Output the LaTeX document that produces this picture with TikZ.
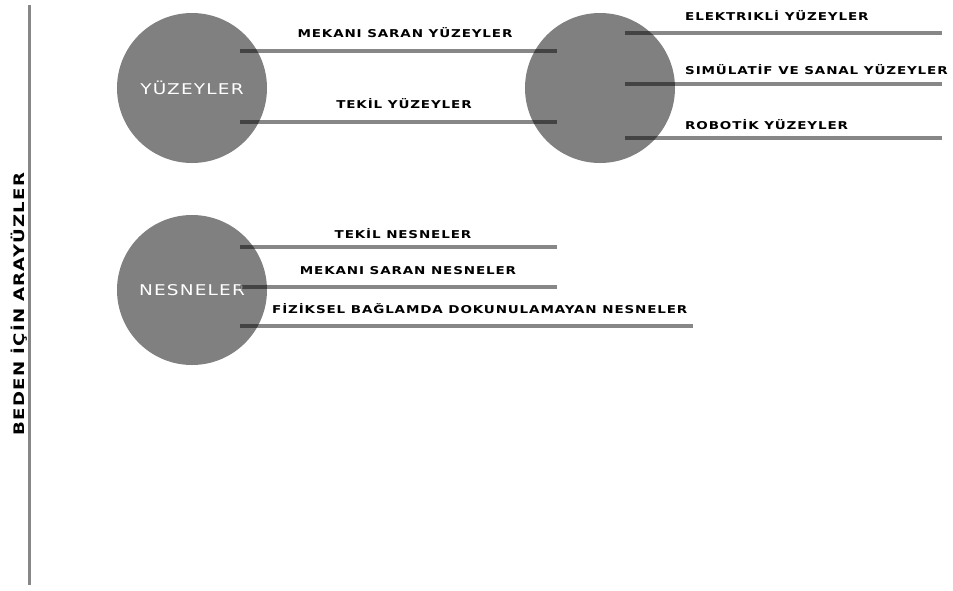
\documentclass[tikz,border=0pt]{standalone}
\usepackage{fontspec}
\setmainfont{DejaVu Sans}[FakeStretch=1.25, LetterSpace=8]
\begin{document}
\begin{tikzpicture}[x=1pt, y=-1pt,
    blob/.style={circle, fill=black!50, minimum size=150pt, inner sep=0pt,
      text=white, font=\fontsize{14.8}{15}\selectfont},
    bar/.style={draw=black, opacity=0.47, line width=4pt},
    lbl/.style={inner sep=0pt, font=\bfseries\fontsize{10.8}{11}\selectfont}]
  \useasboundingbox (0,0) rectangle (953,590);
  % main axis
  \coordinate (top) at (29,5);
  \coordinate (bot) at (29,585);
  \draw[bar, line width=3pt] (top) -- (bot);
  \node[lbl, rotate=90, font=\bfseries\fontsize{14.5}{15}\selectfont] (axis) at (19,304)
    {BEDEN İÇİN ARAYÜZLER};
  % circles
  \node[blob] (yuz) at (192,88) {YÜZEYLER};
  \node[blob] (ara) at (600,88) {};
  \node[blob] (nes) at (192,290) {NESNELER};
  % bars between the two upper circles
  \coordinate (m1) at (240,51);  \coordinate (m2) at (557,51);
  \coordinate (t1) at (240,122); \coordinate (t2) at (557,122);
  \draw[bar] (m1) -- (m2);
  \draw[bar] (t1) -- (t2);
  \node[lbl] (mekan) at (405,33) {MEKANI SARAN YÜZEYLER};
  \node[lbl] (tekil) at (404,104) {TEKİL YÜZEYLER};
  % bars leaving the right circle
  \coordinate (e1) at (625,33);  \coordinate (e2) at (942,33);
  \coordinate (s1) at (625,84);  \coordinate (s2) at (942,84);
  \coordinate (r1) at (625,138); \coordinate (r2) at (942,138);
  \draw[bar] (e1) -- (e2);
  \draw[bar] (s1) -- (s2);
  \draw[bar] (r1) -- (r2);
  \node[lbl, anchor=west] (elek) at (685,16) {ELEKTRIKLİ YÜZEYLER};
  \node[lbl, anchor=west] (simu) at (685,70) {SIMÜLATİF VE SANAL YÜZEYLER};
  \node[lbl, anchor=west] (robo) at (685,125) {ROBOTİK YÜZEYLER};
  % bars leaving the lower circle
  \coordinate (k1) at (240,247); \coordinate (k2) at (557,247);
  \coordinate (n1) at (240,287); \coordinate (n2) at (557,287);
  \coordinate (f1) at (240,326); \coordinate (f2) at (693,326);
  \draw[bar] (k1) -- (k2);
  \draw[bar] (n1) -- (n2);
  \draw[bar] (f1) -- (f2);
  \node[lbl] (tnes) at (403,234) {TEKİL NESNELER};
  \node[lbl] (mnes) at (408,271) {MEKANI SARAN NESNELER};
  \node[lbl, anchor=west] (fiz) at (272,309) {FİZİKSEL BAĞLAMDA DOKUNULAMAYAN NESNELER};
\end{tikzpicture}
\end{document}
